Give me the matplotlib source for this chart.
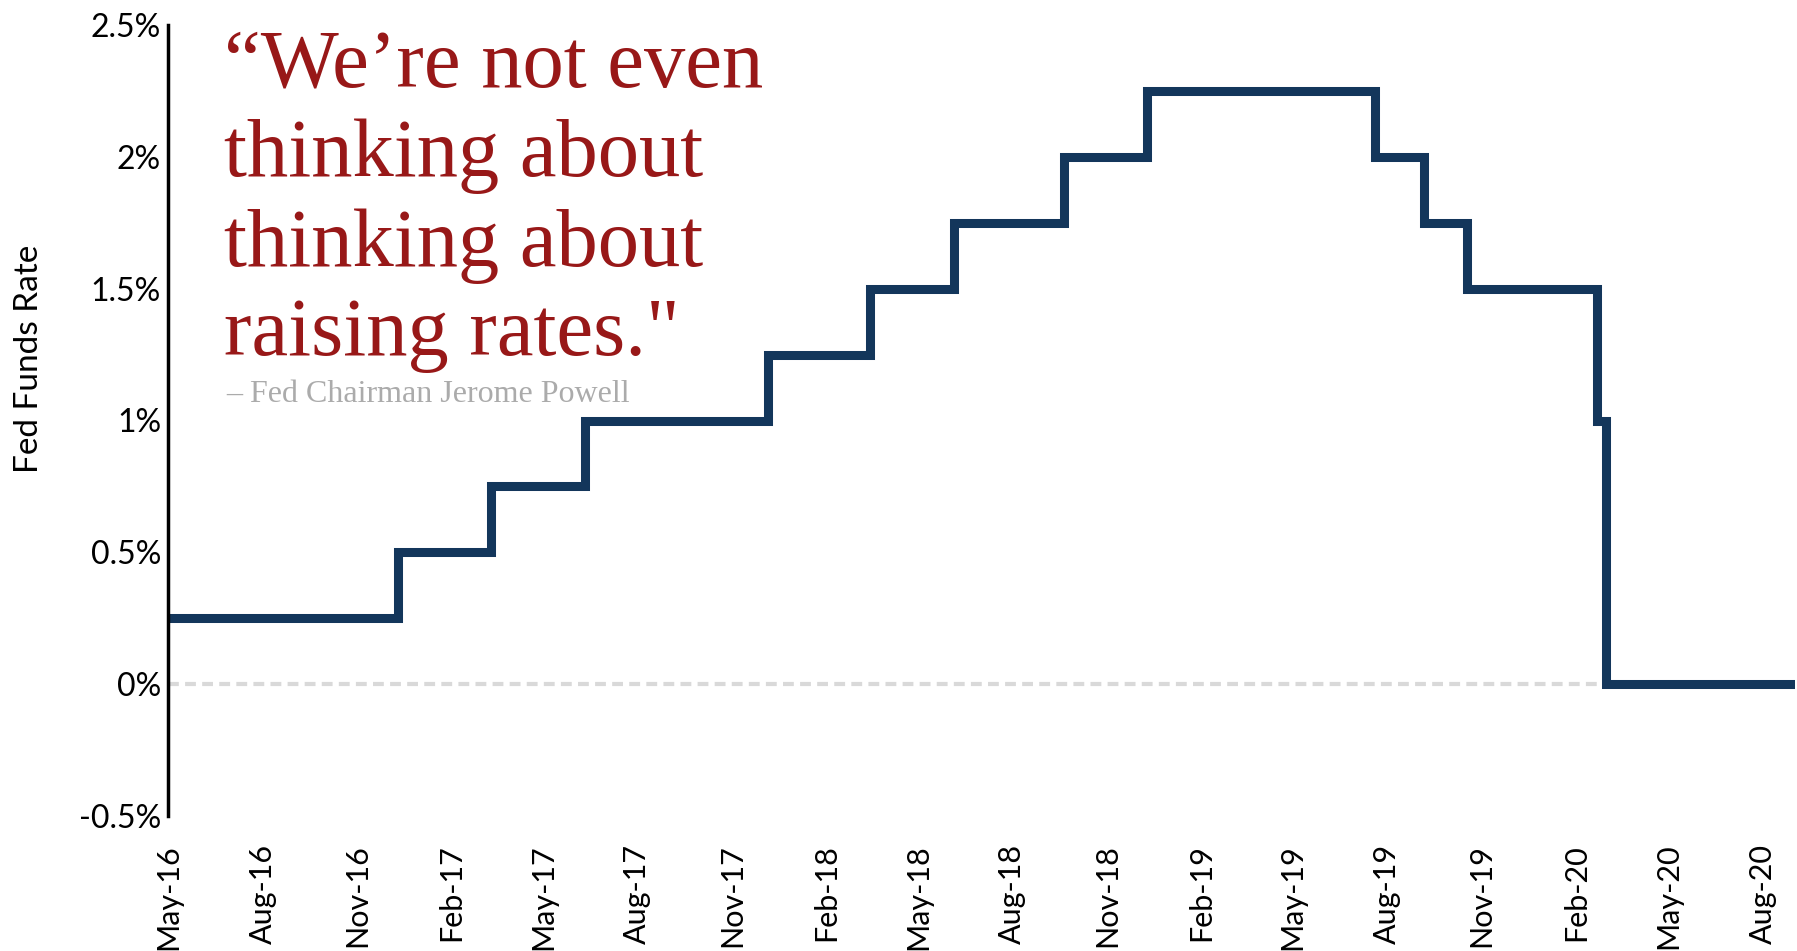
import pandas as pd
import numpy as np
import matplotlib
matplotlib.use('Agg')
import matplotlib.pyplot as plt

# fed funds rate (lower bound), value holds from each date on (dates)
change_dates = ['2016-05-01', '2016-12-11', '2017-03-11', '2017-06-11', '2017-12-06',
                '2018-03-15', '2018-06-05', '2018-09-20', '2018-12-10', '2019-07-20',
                '2019-09-06', '2019-10-18', '2020-02-21', '2020-03-01', '2020-09-01']
rates = [0.25, 0.5, 0.75, 1.0, 1.25, 1.5, 1.75, 2.0, 2.25, 2.0, 1.75, 1.5, 1.0, 0.0, 0.0]

y_ticks = [-0.5, 0, 0.5, 1, 1.5, 2, 2.5]
y_tick_labels = ['-0.5%', '0%', '0.5%', '1%', '1.5%', '2%', '2.5%']

quote_lines = ['\u201cWe\u2019re not even', 'thinking about', 'thinking about', 'raising rates."']
attribution = '\u2013 Fed Chairman Jerome Powell'

W, H = 1797, 951
navy = '#13365B'
red = '#981818'

dates = pd.to_datetime(change_dates)
x_ticks = pd.date_range('2016-05-01', '2020-08-01', freq='3MS')

fig = plt.figure(figsize=(W / 100, H / 100), dpi=100)
ax = fig.add_axes([168 / W, 1 - 816 / H, (1795 - 168) / W, (816 - 25) / H])

ax.axhline(0, color='#D9D9D9', lw=3, dashes=(2.6, 1.5), zorder=1)
ax.step(dates, rates, where='post', color=navy, lw=6.5, solid_joinstyle='miter', zorder=2)

ax.set_ylim(-0.5, 2.5)
ax.set_xlim(pd.Timestamp('2016-05-01'), pd.Timestamp('2020-09-01'))
ax.set_yticks(y_ticks)
ax.set_yticklabels(y_tick_labels, fontfamily='Lato', fontsize=23)
ax.set_xticks(x_ticks)
ax.set_xticklabels([d.strftime('%b-%y') for d in x_ticks], rotation=90,
                   fontfamily='Lato', fontsize=22)
ax.tick_params(axis='y', length=0, pad=5)
ax.tick_params(axis='x', length=0, pad=20)

for s in ['top', 'right', 'bottom']:
    ax.spines[s].set_visible(False)
ax.spines['left'].set_linewidth(2.5)
ax.spines['left'].set_color('black')

fig.text(29 / W, 1 - 359 / H, 'Fed Funds Rate', rotation=90, ha='center', va='center',
         fontfamily='Lato', fontsize=24)

baselines = [87, 176, 266, 355]
for line, yb in zip(quote_lines, baselines):
    fig.text(224 / W, 1 - yb / H, line, ha='left', va='baseline',
             fontfamily='Liberation Serif', fontsize=59.5, color=red)
fig.text(226 / W, 1 - 402 / H, attribution, ha='left', va='baseline',
         fontfamily='Liberation Serif', fontsize=23, color='#ABABAB')

fig.savefig('out.png', dpi=100)
